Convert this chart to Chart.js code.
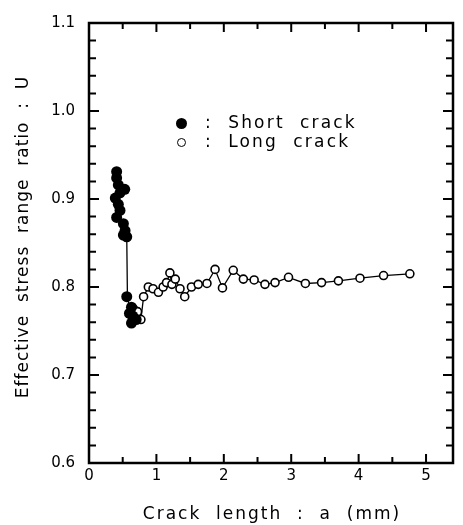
<!DOCTYPE html>
<html>
<head>
<meta charset="utf-8">
<script src="https://cdn.jsdelivr.net/npm/chart.js@4.4.1/dist/chart.umd.min.js"></script>
<style>
  html, body { margin: 0; padding: 0; background: #fff; }
  #wrap { position: relative; width: 463px; height: 525px; }
  .key {
    position: absolute;
    left: 176px;
    font: 17px "DejaVu Sans", sans-serif;
    letter-spacing: 2.2px;
    color: #000;
    white-space: pre;
    line-height: 18px;
  }
  .dot {
    display: inline-block;
    box-sizing: border-box;
    border-radius: 50%;
    vertical-align: middle;
    margin-right: 18px;
  }
  .dot.full { width: 11px; height: 11px; background: #000; }
  .dot.open { width: 9px; height: 9px; border: 1.6px solid #000; background: #fff; margin-left: 1px; margin-right: 19px; }
</style>
</head>
<body>
<div id="wrap">
  <canvas id="crackChart" width="463" height="525"></canvas>
  <div class="key" style="top:113px"><span class="dot full"></span>:  Short  crack</div>
  <div class="key" style="top:132px"><span class="dot open"></span>:  Long  crack</div>
</div>
<script>
// crack length a (mm) and effective stress range ratio U
const shortA = [0.41, 0.41, 0.435, 0.46, 0.53, 0.39, 0.435, 0.46, 0.41, 0.51, 0.535, 0.51, 0.56,
  0.56, 0.63, 0.65, 0.63, 0.70, 0.60];
const shortU = [0.931, 0.924, 0.916, 0.907, 0.911, 0.901, 0.894, 0.887, 0.879, 0.872, 0.864, 0.859, 0.857,
  0.789, 0.777, 0.767, 0.759, 0.763, 0.770];

const longA = [0.66, 0.72, 0.77, 0.81, 0.88, 0.95, 1.03, 1.10, 1.15, 1.20, 1.23, 1.28, 1.35, 1.42,
  1.52, 1.62, 1.75, 1.87, 1.98, 2.14, 2.29, 2.45, 2.61, 2.76, 2.96, 3.21, 3.45, 3.70, 4.02, 4.37, 4.76];
const longU = [0.775, 0.772, 0.763, 0.789, 0.800, 0.798, 0.794, 0.800, 0.805, 0.816, 0.803, 0.809, 0.798, 0.789,
  0.800, 0.803, 0.804, 0.820, 0.799, 0.819, 0.809, 0.808, 0.803, 0.805, 0.811, 0.804, 0.805, 0.807, 0.810, 0.813, 0.815];

// drawn curve joining the short crack drop to the long crack data
const trendA = [0.56, 0.57, 0.63, 0.66];
const trendU = [0.857, 0.789, 0.765, 0.775];

const xTicks = [0, 1, 2, 3, 4, 5];
const yTicks = [0.6, 0.7, 0.8, 0.9, 1.0, 1.1];

const xMin = 0, xMax = 5.4, yMin = 0.6, yMax = 1.1;

const toPoints = (xs, ys) => xs.map((x, i) => ({ x: x, y: ys[i] }));

// frame with inward ticks on all four sides, plus axis titles
const frameTicks = {
  id: "frameTicks",
  afterDraw(chart) {
    const ctx = chart.ctx;
    const { left, right, top, bottom } = chart.chartArea;
    const sx = chart.scales.x;
    const sy = chart.scales.y;
    ctx.save();
    ctx.strokeStyle = "#000";
    ctx.lineWidth = 2.5;
    ctx.strokeRect(left, top, right - left, bottom - top);

    ctx.lineWidth = 2;
    ctx.beginPath();
    for (let i = 0; i <= 10; i++) {
      const v = i * 0.5;
      const px = sx.getPixelForValue(v);
      const len = i % 2 === 0 ? 9 : 6;
      ctx.moveTo(px, bottom);
      ctx.lineTo(px, bottom - len);
      ctx.moveTo(px, top);
      ctx.lineTo(px, top + len);
    }
    for (let i = 0; i <= 25; i++) {
      const v = yMin + i * 0.02;
      const py = sy.getPixelForValue(v);
      const len = i % 5 === 0 ? 10 : 7;
      ctx.moveTo(left, py);
      ctx.lineTo(left + len, py);
      ctx.moveTo(right, py);
      ctx.lineTo(right - len, py);
    }
    ctx.stroke();

    ctx.fillStyle = "#000";
    ctx.font = '17px "DejaVu Sans", sans-serif';
    ctx.letterSpacing = "2px";
    ctx.textAlign = "center";
    ctx.textBaseline = "alphabetic";
    ctx.fillText("Crack  length  :  a  (mm)", (left + right) / 2 + 1, 519);

    ctx.letterSpacing = "1px";
    ctx.translate(28, (top + bottom) / 2 - 6);
    ctx.rotate(-Math.PI / 2);
    ctx.fillText("Effective  stress  range  ratio  :  U", 0, 0);
    ctx.restore();
  }
};

new Chart(document.getElementById("crackChart"), {
  type: "scatter",
  data: {
    datasets: [
      {
        label: "trend",
        data: toPoints(trendA, trendU),
        showLine: true,
        borderColor: "#000",
        borderWidth: 1.3,
        pointRadius: 0,
        order: 3,
      },
      {
        label: "Long crack",
        data: toPoints(longA, longU),
        showLine: true,
        borderColor: "#000",
        borderWidth: 1.3,
        pointRadius: 4,
        pointBorderWidth: 1.6,
        pointBackgroundColor: "#fff",
        pointBorderColor: "#000",
        order: 2,
      },
      {
        label: "Short crack",
        data: toPoints(shortA, shortU),
        showLine: false,
        pointRadius: 5.5,
        pointBorderWidth: 0,
        pointBackgroundColor: "#000",
        pointBorderColor: "#000",
        order: 1,
      },
    ],
  },
  options: {
    responsive: false,
    animation: false,
    layout: { padding: { top: 13, right: 10, left: 0, bottom: 0 } },
    plugins: { legend: { display: false }, tooltip: { enabled: false } },
    scales: {
      x: {
        type: "linear",
        min: xMin,
        max: xMax,
        afterFit: (scale) => { scale.height = 62; },
        afterBuildTicks: (scale) => { scale.ticks = xTicks.map((v) => ({ value: v })); },
        grid: { display: false, drawTicks: false },
        border: { display: false },
        ticks: {
          padding: 4,
          color: "#000",
          font: { family: "DejaVu Sans", size: 15 },
          callback: (v) => String(v),
        },
      },
      y: {
        type: "linear",
        min: yMin,
        max: yMax,
        afterFit: (scale) => { scale.width = 89; },
        afterBuildTicks: (scale) => { scale.ticks = yTicks.map((v) => ({ value: v })); },
        grid: { display: false, drawTicks: false },
        border: { display: false },
        ticks: {
          padding: 14,
          color: "#000",
          font: { family: "DejaVu Sans", size: 15 },
          callback: (v) => Number(v).toFixed(1),
        },
      },
    },
  },
  plugins: [frameTicks],
});
</script>
</body>
</html>
